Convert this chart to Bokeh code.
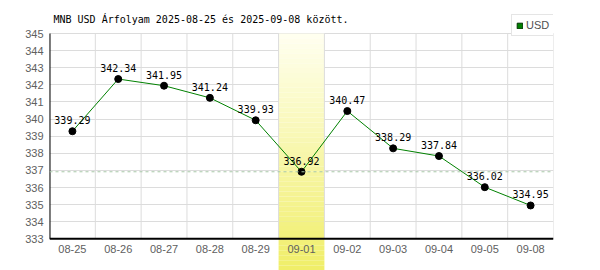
from bokeh.plotting import figure
from bokeh.models import (ColumnDataSource, FixedTicker, Span, Label, Legend,
                          LegendItem, Range1d)
from bokeh.core.properties import value
from bokeh.embed import file_html
from bokeh.resources import INLINE

# ---- data ----
categories = ["08-25", "08-26", "08-27", "08-28", "08-29", "09-01",
              "09-02", "09-03", "09-04", "09-05", "09-08"]
usd = [339.29, 342.34, 341.95, 341.24, 339.93, 336.92,
       340.47, 338.29, 337.84, 336.02, 334.95]
y_ticks = [333, 334, 335, 336, 337, 338, 339, 340, 341, 342, 343, 344, 345]
highlight_day = "09-01"
reference_value = 336.92
series_name = "USD"
title_text = "MNB USD Árfolyam 2025-08-25 és 2025-09-08 között."

# ---- layout ----
W, H = 600, 270
y_lo, y_hi = y_ticks[0], y_ticks[-1]
view_lo, view_hi = 331.15, 346.93      # frame spans the full canvas height
n = len(categories)
xs = list(range(n))

p = figure(width=W, height=H, output_backend="svg", toolbar_location=None,
           x_range=Range1d(-0.5, n - 0.5), y_range=Range1d(view_lo, view_hi),
           min_border_left=49, min_border_right=47, min_border_top=0,
           min_border_bottom=0)
p.outline_line_color = None
p.background_fill_color = "white"
p.border_fill_color = "white"

# grids
p.xgrid.visible = False
p.ygrid.ticker = FixedTicker(ticks=y_ticks)
p.ygrid.grid_line_color = "#dcdcdc"
p.ygrid.grid_line_width = 1

# axes
p.xaxis.visible = False
yax = p.yaxis[0]
yax.ticker = FixedTicker(ticks=y_ticks)
yax.axis_line_color = None
yax.major_tick_line_color = None
yax.minor_tick_line_color = None
yax.major_tick_out = 0
yax.major_tick_in = 0
yax.minor_tick_out = 0
yax.major_label_standoff = 6
yax.major_label_text_font = "Liberation Sans"
yax.major_label_text_font_size = "11px"
yax.major_label_text_color = "#606060"

# highlighted day band with vertical gradient
hi_idx = categories.index(highlight_day)
steps = 48
top_c = (255, 255, 240)
bot_c = (240, 238, 104)
b_tops, b_bots, b_cols = [], [], []
for k in range(steps):
    t0 = y_hi - (y_hi - view_lo) * k / steps
    t1 = y_hi - (y_hi - view_lo) * (k + 1) / steps
    f = (k + 0.5) / steps
    c = tuple(int(round(top_c[j] + (bot_c[j] - top_c[j]) * f)) for j in range(3))
    b_tops.append(t0)
    b_bots.append(t1 - 0.001)
    b_cols.append("#%02x%02x%02x" % c)
p.quad(left=[hi_idx - 0.5] * steps, right=[hi_idx + 0.5] * steps,
       top=b_tops, bottom=b_bots, fill_color=b_cols, line_color=None)

# vertical grid lines between categories
vx = [i + 0.5 for i in range(-1, n)]
p.segment(x0=vx, y0=[y_lo] * len(vx), x1=vx, y1=[y_hi] * len(vx),
          line_color="#dcdcdc", line_width=1)

# reference dashed line
p.add_layout(Span(location=reference_value, dimension="width",
                  line_color="#a8c8a8", line_dash="3 3", line_width=1))

# series
src = ColumnDataSource(dict(x=xs, y=usd, lbl=[f"{v:.2f}" for v in usd]))
p.line("x", "y", source=src, line_color="#008000", line_width=1)
p.scatter("x", "y", source=src, size=7, fill_color="black", line_color="black")
p.text("x", "y", text="lbl", source=src, text_align="center",
       text_baseline="alphabetic", y_offset=-11,
       text_font=value("DejaVu Sans Mono"), text_font_size="10px",
       text_color="black")

# axis lines
p.segment(x0=[-0.5], y0=[y_lo], x1=[-0.5], y1=[y_hi], line_color="black",
          line_width=2)
p.segment(x0=[-0.5], y0=[y_lo], x1=[n - 0.5], y1=[y_lo], line_color="black",
          line_width=2)

# category labels under the axis line
p.text(xs, [y_lo] * n, text=categories, text_align="center",
       text_baseline="top", y_offset=6,
       text_font=value("Liberation Sans"), text_font_size="11px",
       text_color="#606060")

# title
p.add_layout(Label(x=4, y=H - 19, x_units="screen", y_units="screen",
                   text=title_text, text_font="DejaVu Sans Mono",
                   text_font_size="10px", text_baseline="middle",
                   text_color="black"))

# legend with a square swatch (a glyph that draws nothing in the frame)
nan = float("nan")
dummy = p.quad(left=[nan], right=[nan], top=[nan], bottom=[nan],
               fill_color="#008000", line_color="#003300", line_width=1)
legend = Legend(items=[LegendItem(label=series_name, renderers=[dummy])],
                location=(462, 234), orientation="vertical",
                border_line_color="#cccccc", border_line_width=1,
                background_fill_color="white", background_fill_alpha=1,
                padding=4, margin=0, spacing=0, label_standoff=3,
                glyph_width=7, glyph_height=7, label_height=10, label_width=25,
                label_text_font="Liberation Sans", label_text_font_size="11px",
                label_text_color="#505050")
p.add_layout(legend)

open("out.html", "w").write(file_html(p, INLINE))
